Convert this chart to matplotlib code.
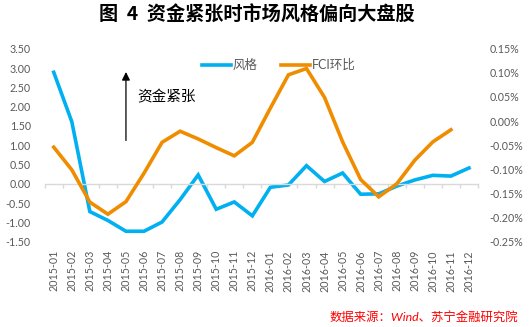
import numpy as np
import matplotlib
matplotlib.use("Agg")
import matplotlib.pyplot as plt

plt.rcParams["font.family"] = ["Lato", "Noto Sans CJK SC", "DejaVu Sans"]

months = ["2015-01", "2015-02", "2015-03", "2015-04", "2015-05", "2015-06",
          "2015-07", "2015-08", "2015-09", "2015-10", "2015-11", "2015-12",
          "2016-01", "2016-02", "2016-03", "2016-04", "2016-05", "2016-06",
          "2016-07", "2016-08", "2016-09", "2016-10", "2016-11", "2016-12"]

# style factor (left axis)
style = [2.89, 1.61, -0.72, -0.95, -1.23, -1.23, -0.99, -0.41, 0.23, -0.66,
         -0.47, -0.83, -0.09, -0.03, 0.47, 0.06, 0.28, -0.27, -0.26, -0.06,
         0.10, 0.22, 0.20, 0.41]

# FCI month-on-month change, % (right axis), no value for 2016-12
fci = [-0.054, -0.101, -0.168, -0.193, -0.167, -0.108, -0.044, -0.021, -0.037,
       -0.055, -0.072, -0.044, 0.027, 0.096, 0.109, 0.049, -0.043, -0.121,
       -0.157, -0.130, -0.081, -0.043, -0.018]

left_ticks = [-1.5, -1.0, -0.5, 0.0, 0.5, 1.0, 1.5, 2.0, 2.5, 3.0, 3.5]
right_ticks = [-0.25, -0.20, -0.15, -0.10, -0.05, 0.00, 0.05, 0.10, 0.15]

BLUE = "#00B0F0"
ORANGE = "#F08C00"
GREY = "#595959"
LINE = "#D9D9D9"

fig = plt.figure(figsize=(5.31, 3.27), dpi=100)
ax = fig.add_axes([0.0842, 0.2609, 0.816, 0.590])
ax2 = ax.twinx()

x = np.arange(len(months))
ax.plot(x, style, color=BLUE, lw=2.6, label="风格", solid_joinstyle="miter")
ax2.plot(np.arange(len(fci)), fci, color=ORANGE, lw=2.6, label="FCI环比",
         solid_joinstyle="miter")

ax.set_xlim(-0.5, len(months) - 0.5)
ax.set_ylim(-1.5, 3.5)
ax2.set_ylim(-0.25, 0.15)

ax.set_yticks(left_ticks)
ax.set_yticklabels([f"{v:.2f}" for v in left_ticks])
ax2.set_yticks(right_ticks)
ax2.set_yticklabels([f"{v:.2f}%" for v in right_ticks])
ax.tick_params(axis="y", length=0, pad=10, labelsize=7.7, labelcolor=GREY)
ax2.tick_params(axis="y", length=0, pad=8.5, labelsize=7.7, labelcolor=GREY)

for s in ["top", "left", "right"]:
    ax.spines[s].set_visible(False)
for s in ax2.spines.values():
    s.set_visible(False)

# category axis crosses at zero, tick marks between months
ax.spines["bottom"].set_position(("data", 0))
ax.spines["bottom"].set_color(LINE)
ax.spines["bottom"].set_linewidth(1.0)
ax.set_xticks(np.arange(len(months) + 1) - 0.5)
ax.set_xticklabels([])
ax.tick_params(axis="x", direction="out", length=3, width=1.0, color=LINE)

# month labels stay at the bottom of the plot area
sec = ax.secondary_xaxis(location=0)
sec.set_xticks(x)
sec.set_xticklabels(months, rotation=90)
sec.tick_params(length=0, pad=6, labelsize=7.7, labelcolor=GREY)
sec.spines["bottom"].set_visible(False)

h1, l1 = ax.get_legend_handles_labels()
h2, l2 = ax2.get_legend_handles_labels()
leg = ax.legend(h1 + h2, l1 + l2, loc="center", bbox_to_anchor=(0.54, 0.916),
                ncol=2, frameon=False, fontsize=9, handlelength=2.3,
                handletextpad=0.15, columnspacing=1.9)
for t in leg.get_texts():
    t.set_color(GREY)
leg.set_zorder(5)

ax.annotate("", xy=(4, 2.97), xytext=(4, 1.05),
            arrowprops=dict(arrowstyle="-|>", color="black", lw=0.9,
                            mutation_scale=12))
ax.text(4.65, 2.24, "资金紧张", fontsize=10.5, color="black", va="center",
        ha="left", family=["Noto Sans CJK SC", "DejaVu Sans"])

fig.text(0.484, 1 - 15 / 327, "图  4  资金紧张时市场风格偏向大盘股",
         ha="center", va="center", fontsize=13.8, fontweight="bold",
         family=["Noto Sans CJK SC", "DejaVu Sans"])
fig.text(0.976, 1 - 317 / 327, "数据来源：Wind、苏宁金融研究院",
         ha="right", va="center", fontsize=8.9, color="#FF0000", style="italic",
         family=["Lato", "Noto Sans CJK SC", "DejaVu Sans"])

fig.savefig("out.png", dpi=100, facecolor="white")
